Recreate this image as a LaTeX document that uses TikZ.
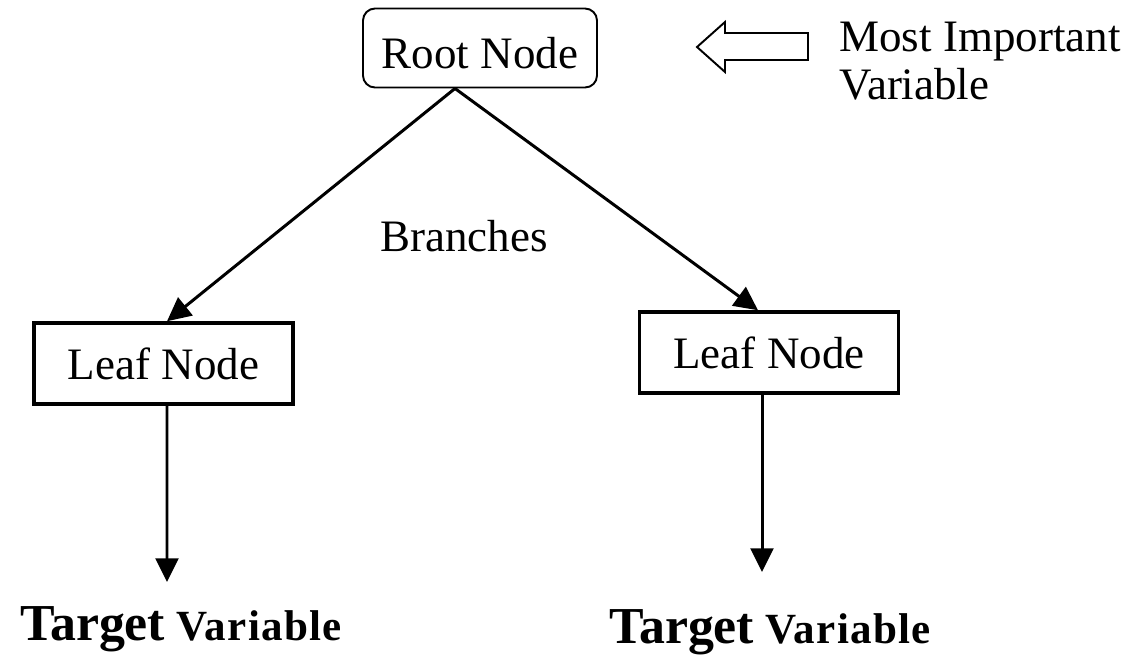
\documentclass[tikz,border=0pt]{standalone}
\usepackage{fontspec}
\setmainfont{Liberation Serif}
\usetikzlibrary{arrows.meta}

\begin{document}
\begin{tikzpicture}
  [every node/.style={font=\fontsize{25.6}{26.8}\selectfont},
   line width=1.7pt, >={Triangle[length=13.5pt,width=13pt]}]

  \tikzstyle{leaf}   = [draw, rectangle, line width=2pt, inner sep=0pt,
                        minimum width=5.18cm, minimum height=1.62cm]
  \tikzstyle{target} = [anchor=base, inner sep=0pt]

  \useasboundingbox (0,0) rectangle (22.7,-13.12);

  \node[draw, rounded corners=0.24cm, line width=1.1pt, inner sep=0pt,
        text height=0.8cm, text depth=0pt,
        minimum width=4.68cm, minimum height=1.58cm] (1) at (9.6,-0.96) {Root Node};
  \node[leaf] (2) at (3.27,-7.27) {Leaf Node};
  \node[leaf] (3) at (15.38,-7.05) {Leaf Node};

  \node[inner sep=0pt] (br) at (9.28,-4.72) {Branches};

  \node[target] (4) at (3.62,-12.8)
    {\bfseries{\fontsize{29.5}{31}\selectfont Target}
     {\fontsize{24.5}{26}\selectfont\addfontfeature{LetterSpace=3}Variable}};
  \node[target] (5) at (15.4,-12.86)
    {\bfseries{\fontsize{29.5}{31}\selectfont Target}
     {\fontsize{24.5}{26}\selectfont\addfontfeature{LetterSpace=3}Variable}};

  % hollow arrow pointing at the root
  \draw[line width=1.1pt, line join=miter]
    (13.94,-0.94) -- (14.5,-0.44) -- (14.5,-0.66) -- (16.16,-0.66)
    -- (16.16,-1.2) -- (14.5,-1.2) -- (14.5,-1.44) -- cycle;
  \node[anchor=north west, inner sep=0pt, align=left] (6) at (16.76,-0.42)
    {Most Important\\Variable};

  \coordinate (a) at ([xshift=-0.5cm]1.south);
  \coordinate (l) at (3.34,-11.64);
  \coordinate (r) at (15.24,-11.44);

  \path[->]
        (a) edge ([xshift=0.07cm]2.north)
        (a) edge ([xshift=-0.22cm]3.north)
        ([xshift=0.07cm]2.south) edge (l)
        ([xshift=-0.14cm]3.south) edge (r);
\end{tikzpicture}
\end{document}
